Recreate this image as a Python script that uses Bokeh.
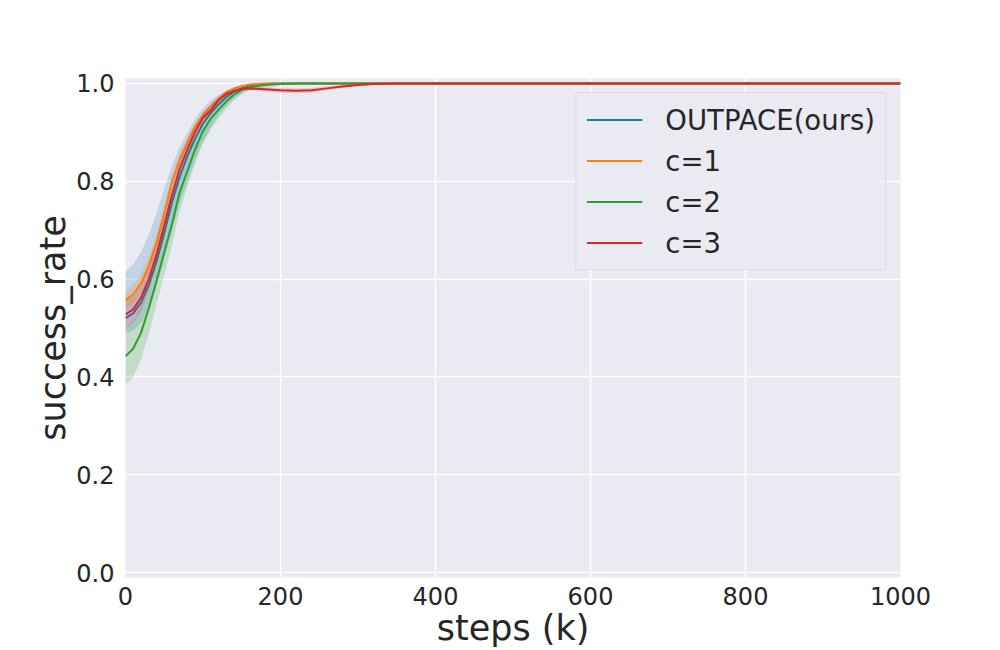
from bokeh.plotting import figure
from bokeh.models import Legend, LegendItem, PrintfTickFormatter, FixedTicker, Range1d
from bokeh.embed import file_html
from bokeh.resources import INLINE

steps = [0, 10, 20, 30, 40, 50, 60, 70, 80, 90, 100, 110, 120, 130, 140, 150, 160, 170, 180, 190, 200,
         220, 240, 260, 280, 300, 320, 350, 400, 500, 600, 700, 800, 900, 1000]

outpace = [0.520, 0.530, 0.552, 0.588, 0.636, 0.694, 0.757, 0.810, 0.852, 0.888, 0.918, 0.940, 0.957, 0.972,
           0.983, 0.990, 0.995, 0.998, 0.999, 1.0, 1.0,
           1.0, 1.0, 1.0, 1.0, 1.0, 1.0, 1.0, 1.0, 1.0, 1.0, 1.0, 1.0, 1.0, 1.0]
outpace_lo = [0.490, 0.495, 0.510, 0.540, 0.585, 0.640, 0.700, 0.755, 0.800, 0.845, 0.880, 0.910, 0.935, 0.955,
              0.970, 0.980, 0.988, 0.994, 0.997, 0.999, 1.0,
              1.0, 1.0, 1.0, 1.0, 1.0, 1.0, 1.0, 1.0, 1.0, 1.0, 1.0, 1.0, 1.0, 1.0]
outpace_hi = [0.615, 0.630, 0.655, 0.690, 0.735, 0.785, 0.832, 0.870, 0.900, 0.928, 0.950, 0.965, 0.976, 0.985,
              0.991, 0.995, 0.998, 0.999, 1.0, 1.0, 1.0,
              1.0, 1.0, 1.0, 1.0, 1.0, 1.0, 1.0, 1.0, 1.0, 1.0, 1.0, 1.0, 1.0, 1.0]

c1 = [0.557, 0.569, 0.591, 0.627, 0.675, 0.735, 0.799, 0.845, 0.880, 0.912, 0.935, 0.953, 0.968, 0.982,
      0.990, 0.995, 0.998, 0.999, 1.0, 1.0, 1.0,
      1.0, 1.0, 1.0, 1.0, 1.0, 1.0, 1.0, 1.0, 1.0, 1.0, 1.0, 1.0, 1.0, 1.0]
c1_lo = [0.540, 0.550, 0.572, 0.609, 0.658, 0.720, 0.786, 0.834, 0.870, 0.904, 0.929, 0.948, 0.963, 0.979,
         0.988, 0.994, 0.997, 0.998, 1.0, 1.0, 1.0,
         1.0, 1.0, 1.0, 1.0, 1.0, 1.0, 1.0, 1.0, 1.0, 1.0, 1.0, 1.0, 1.0, 1.0]
c1_hi = [0.575, 0.588, 0.610, 0.645, 0.692, 0.750, 0.812, 0.856, 0.890, 0.920, 0.941, 0.958, 0.973, 0.985,
         0.992, 0.996, 0.999, 1.0, 1.0, 1.0, 1.0,
         1.0, 1.0, 1.0, 1.0, 1.0, 1.0, 1.0, 1.0, 1.0, 1.0, 1.0, 1.0, 1.0, 1.0]

c2 = [0.442, 0.458, 0.490, 0.540, 0.596, 0.655, 0.712, 0.778, 0.822, 0.866, 0.903, 0.928, 0.946, 0.963,
      0.977, 0.987, 0.992, 0.995, 0.997, 0.998, 0.999,
      1.0, 1.0, 1.0, 1.0, 1.0, 1.0, 1.0, 1.0, 1.0, 1.0, 1.0, 1.0, 1.0, 1.0]
c2_lo = [0.385, 0.400, 0.435, 0.488, 0.548, 0.608, 0.670, 0.740, 0.790, 0.836, 0.878, 0.906, 0.928, 0.948,
         0.965, 0.978, 0.986, 0.990, 0.993, 0.995, 0.997,
         0.999, 1.0, 1.0, 1.0, 1.0, 1.0, 1.0, 1.0, 1.0, 1.0, 1.0, 1.0, 1.0, 1.0]
c2_hi = [0.500, 0.515, 0.545, 0.590, 0.642, 0.700, 0.752, 0.812, 0.858, 0.895, 0.925, 0.946, 0.961, 0.975,
         0.986, 0.993, 0.997, 0.999, 1.0, 1.0, 1.0,
         1.0, 1.0, 1.0, 1.0, 1.0, 1.0, 1.0, 1.0, 1.0, 1.0, 1.0, 1.0, 1.0, 1.0]

c3 = [0.528, 0.538, 0.562, 0.600, 0.650, 0.710, 0.772, 0.826, 0.866, 0.902, 0.930, 0.945, 0.966, 0.978,
      0.985, 0.989, 0.990, 0.989, 0.988, 0.987, 0.986,
      0.985, 0.986, 0.990, 0.994, 0.997, 0.999, 1.0, 1.0, 1.0, 1.0, 1.0, 1.0, 1.0, 1.0]
c3_lo = [0.500, 0.510, 0.535, 0.575, 0.627, 0.690, 0.754, 0.810, 0.852, 0.890, 0.920, 0.935, 0.958, 0.972,
         0.980, 0.985, 0.986, 0.985, 0.983, 0.982, 0.981,
         0.980, 0.981, 0.986, 0.991, 0.995, 0.998, 1.0, 1.0, 1.0, 1.0, 1.0, 1.0, 1.0, 1.0]
c3_hi = [0.555, 0.565, 0.588, 0.625, 0.673, 0.730, 0.790, 0.842, 0.880, 0.914, 0.940, 0.957, 0.974, 0.984,
         0.990, 0.993, 0.994, 0.993, 0.993, 0.992, 0.991,
         0.990, 0.991, 0.994, 0.997, 0.999, 1.0, 1.0, 1.0, 1.0, 1.0, 1.0, 1.0, 1.0, 1.0]

labels = ["OUTPACE(ours)", "c=1", "c=2", "c=3"]
colors = ["#1f77b4", "#ff7f0e", "#2ca02c", "#d62728"]
x_ticks = [0, 200, 400, 600, 800, 1000]
y_ticks = [0.0, 0.2, 0.4, 0.6, 0.8, 1.0]

FONT = "DejaVu Sans"
TXT = "#262626"

p = figure(width=1000, height=650, output_backend="svg", toolbar_location=None,
           x_range=Range1d(0, 1000), y_range=Range1d(-0.0102, 1.0102),
           min_border_left=125, min_border_right=100, min_border_top=78, min_border_bottom=72)
p.background_fill_color = "#EAEAF2"
p.border_fill_color = "white"
p.outline_line_color = None

series = [(outpace, outpace_lo, outpace_hi), (c1, c1_lo, c1_hi), (c2, c2_lo, c2_hi), (c3, c3_lo, c3_hi)]
items = []
for (ys, lo, hi), lab, col in zip(series, labels, colors):
    p.varea(x=steps, y1=lo, y2=hi, fill_color=col, fill_alpha=0.2)
    r = p.line(x=steps, y=ys, line_color=col, line_width=2)
    items.append(LegendItem(label=lab, renderers=[r]))

for ax in (p.xaxis[0], p.yaxis[0]):
    ax.axis_line_color = None
    ax.major_tick_line_color = None
    ax.minor_tick_line_color = None
    ax.major_label_text_font = FONT
    ax.major_label_text_font_size = "24px"
    ax.major_label_text_color = TXT
    ax.axis_label_text_font = FONT
    ax.axis_label_text_font_size = "35px"
    ax.axis_label_text_font_style = "normal"
    ax.axis_label_text_color = TXT

p.xaxis.ticker = FixedTicker(ticks=x_ticks)
p.yaxis.ticker = FixedTicker(ticks=y_ticks)
p.yaxis.formatter = PrintfTickFormatter(format="%.1f")
p.xaxis.axis_label = "steps (k)"
p.yaxis.axis_label = "success_rate"
p.xaxis.major_label_standoff = 3
p.yaxis.major_label_standoff = 5
p.xaxis.axis_label_standoff = 0
p.yaxis.axis_label_standoff = 0

p.xgrid.grid_line_color = "white"
p.ygrid.grid_line_color = "white"
p.xgrid.grid_line_width = 1.5
p.ygrid.grid_line_width = 1.5

legend = Legend(items=items, location="top_right")
legend.background_fill_color = "#EAEAF2"
legend.background_fill_alpha = 0.8
legend.border_line_color = "#cccccc"
legend.label_text_font = FONT
legend.label_text_font_size = "27.5px"
legend.label_text_color = TXT
legend.glyph_width = 56
legend.glyph_height = 33
legend.label_height = 33
legend.spacing = 8
legend.padding = 10
legend.margin = 14
legend.label_standoff = 23
p.add_layout(legend)

open("out.html", "w").write(file_html(p, INLINE))
